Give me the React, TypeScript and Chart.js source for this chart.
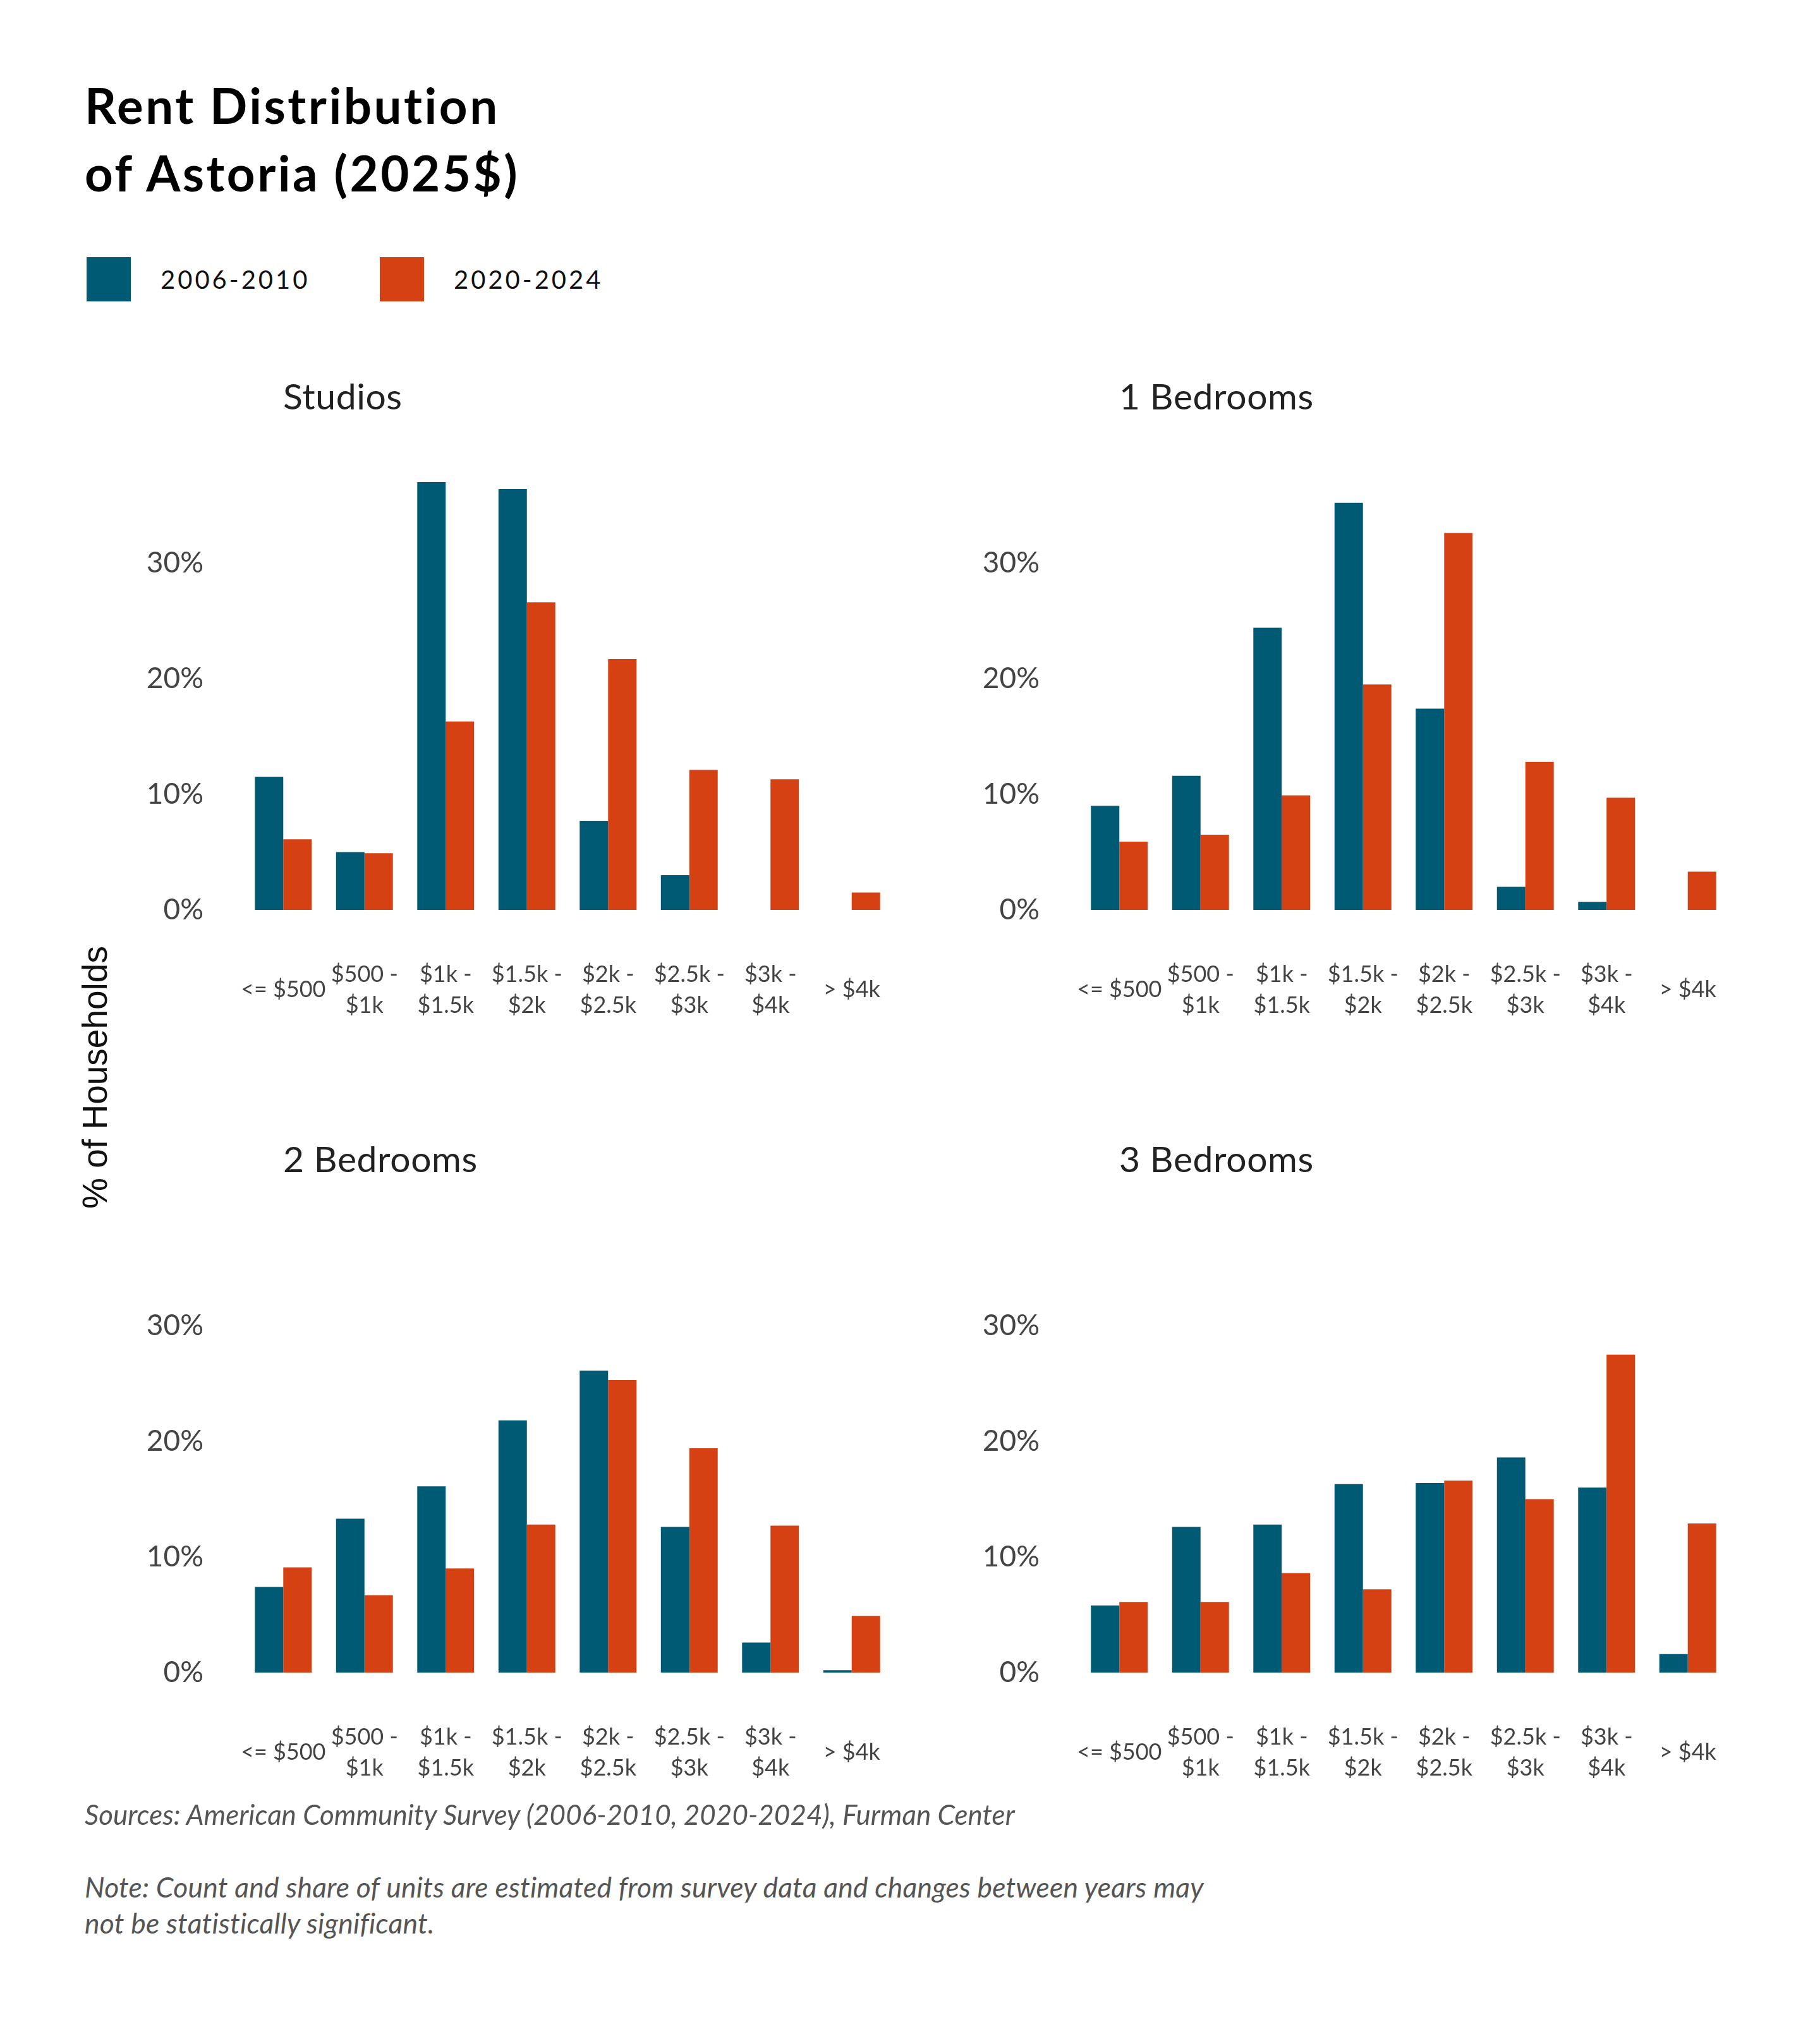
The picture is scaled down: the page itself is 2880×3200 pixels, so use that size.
import { useEffect, useRef } from "react";
import Chart from "chart.js/auto";

const categories = [
  ["<= $500"],
  ["$500 -", "$1k"],
  ["$1k -", "$1.5k"],
  ["$1.5k -", "$2k"],
  ["$2k -", "$2.5k"],
  ["$2.5k -", "$3k"],
  ["$3k -", "$4k"],
  ["> $4k"],
];

const seriesNames = ["2006-2010", "2020-2024"];

const studios2006 = [11.5, 5.0, 37.0, 36.4, 7.7, 3.0, 0, 0];
const studios2020 = [6.1, 4.9, 16.3, 26.6, 21.7, 12.1, 11.3, 1.5];
const oneBed2006 = [9.0, 11.6, 24.4, 35.2, 17.4, 2.0, 0.7, 0];
const oneBed2020 = [5.9, 6.5, 9.9, 19.5, 32.6, 12.8, 9.7, 3.3];
const twoBed2006 = [7.4, 13.3, 16.1, 21.8, 26.1, 12.6, 2.6, 0.2];
const twoBed2020 = [9.1, 6.7, 9.0, 12.8, 25.3, 19.4, 12.7, 4.9];
const threeBed2006 = [5.8, 12.6, 12.8, 16.3, 16.4, 18.6, 16.0, 1.6];
const threeBed2020 = [6.1, 6.1, 8.6, 7.2, 16.6, 15.0, 27.5, 12.9];

const yTicks = [0, 10, 20, 30];

const BLUE = "#005a74";
const ORANGE = "#d64113";
const FONT = "Lato, 'Open Sans', sans-serif";

interface PanelProps {
  title: string;
  left: number;
  top: number;
  first: number[];
  second: number[];
}

// keep the plot area where we put it: drop the overhang padding Chart.js adds for tick labels
function noOverhang(scale: any) {
  scale.paddingTop = 0;
  scale.paddingBottom = 0;
  scale.paddingLeft = 0;
  scale.paddingRight = 0;
}

function Panel({ title, left, top, first, second }: PanelProps) {
  const canvasRef = useRef<HTMLCanvasElement>(null);

  useEffect(() => {
    if (!canvasRef.current) return;
    const chart = new Chart(canvasRef.current, {
      type: "bar",
      data: {
        labels: categories,
        datasets: [
          {
            label: seriesNames[0],
            data: first,
            backgroundColor: BLUE,
            borderWidth: 0,
            categoryPercentage: 0.7,
            barPercentage: 1.0,
          },
          {
            label: seriesNames[1],
            data: second,
            backgroundColor: ORANGE,
            borderWidth: 0,
            categoryPercentage: 0.7,
            barPercentage: 1.0,
          },
        ],
      },
      options: {
        animation: false,
        responsive: true,
        maintainAspectRatio: false,
        layout: { padding: 0 },
        plugins: {
          legend: { display: false },
          tooltip: { enabled: false },
        },
        scales: {
          x: {
            grid: { display: false, drawTicks: false },
            border: { display: false },
            ticks: {
              autoSkip: false,
              maxRotation: 0,
              minRotation: 0,
              crossAlign: "center",
              padding: 102,
              color: "#444",
              font: { family: FONT, size: 36, lineHeight: 1.36 },
            },
            afterFit: (scale) => {
              scale.height = 200;
              noOverhang(scale);
            },
          },
          y: {
            min: 0,
            max: 40,
            grid: { display: false, drawTicks: false },
            border: { display: false },
            afterBuildTicks: (scale) => {
              scale.ticks = yTicks.map((v) => ({ value: v }));
            },
            ticks: {
              padding: 62,
              color: "#444",
              font: { family: FONT, size: 46 },
              callback: (v) => `${v}%`,
            },
            afterFit: (scale) => {
              scale.width = 160;
              noOverhang(scale);
            },
          },
        },
      },
    });
    return () => chart.destroy();
  }, [first, second]);

  return (
    <>
      <div
        style={{
          position: "absolute",
          left: left + 224,
          top: top - 110,
          fontFamily: FONT,
          fontSize: 57,
          letterSpacing: 0.6,
          lineHeight: 1,
          color: "#222",
          whiteSpace: "nowrap",
        }}
      >
        {title}
      </div>
      <div
        style={{
          position: "absolute",
          left,
          top,
          width: 1188,
          height: 932,
        }}
      >
        <canvas ref={canvasRef} />
      </div>
    </>
  );
}

export default function App() {
  return (
    <div
      style={{
        position: "absolute",
        left: 0,
        top: 0,
        width: 2880,
        height: 3200,
        background: "#fff",
        overflow: "hidden",
      }}
    >
      <div
        style={{
          position: "absolute",
          left: 134,
          top: 113,
          fontFamily: FONT,
          fontWeight: 700,
          fontSize: 78,
          letterSpacing: 3.5,
          lineHeight: "107px",
          color: "#000",
          whiteSpace: "nowrap",
        }}
      >
        Rent Distribution
        <br />
        of Astoria (2025$)
      </div>

      <div style={{ position: "absolute", left: 137, top: 407, width: 70, height: 70, background: BLUE }} />
      <div
        style={{
          position: "absolute",
          left: 254,
          top: 422,
          fontFamily: FONT,
          fontSize: 40,
          letterSpacing: 4,
          lineHeight: 1,
          color: "#111",
        }}
      >
        {seriesNames[0]}
      </div>
      <div style={{ position: "absolute", left: 601, top: 407, width: 70, height: 70, background: ORANGE }} />
      <div
        style={{
          position: "absolute",
          left: 718,
          top: 422,
          fontFamily: FONT,
          fontSize: 40,
          letterSpacing: 4,
          lineHeight: 1,
          color: "#111",
        }}
      >
        {seriesNames[1]}
      </div>

      <div
        style={{
          position: "absolute",
          left: 150,
          top: 1705,
          transform: "translate(-50%, -50%) rotate(-90deg)",
          fontFamily: "'Liberation Sans', Arial, sans-serif",
          fontSize: 55,
          lineHeight: 1,
          color: "#111",
          whiteSpace: "nowrap",
        }}
      >
        % of Households
      </div>

      <Panel title="Studios" left={224} top={708} first={studios2006} second={studios2020} />
      <Panel title="1 Bedrooms" left={1547} top={708} first={oneBed2006} second={oneBed2020} />
      <Panel title="2 Bedrooms" left={224} top={1915} first={twoBed2006} second={twoBed2020} />
      <Panel title="3 Bedrooms" left={1547} top={1915} first={threeBed2006} second={threeBed2020} />

      <div
        style={{
          position: "absolute",
          left: 134,
          top: 2849,
          fontFamily: FONT,
          fontStyle: "italic",
          fontSize: 44,
          lineHeight: 1,
          color: "#555",
          whiteSpace: "nowrap",
        }}
      >
        Sources: American Community Survey (2006-2010, 2020-2024), Furman Center
      </div>
      <div
        style={{
          position: "absolute",
          left: 134,
          top: 2957,
          fontFamily: FONT,
          fontStyle: "italic",
          fontSize: 44.5,
          letterSpacing: 0.2,
          lineHeight: "57px",
          color: "#555",
          whiteSpace: "nowrap",
        }}
      >
        Note: Count and share of units are estimated from survey data and changes between years may
        <br />
        not be statistically significant.
      </div>
    </div>
  );
}
